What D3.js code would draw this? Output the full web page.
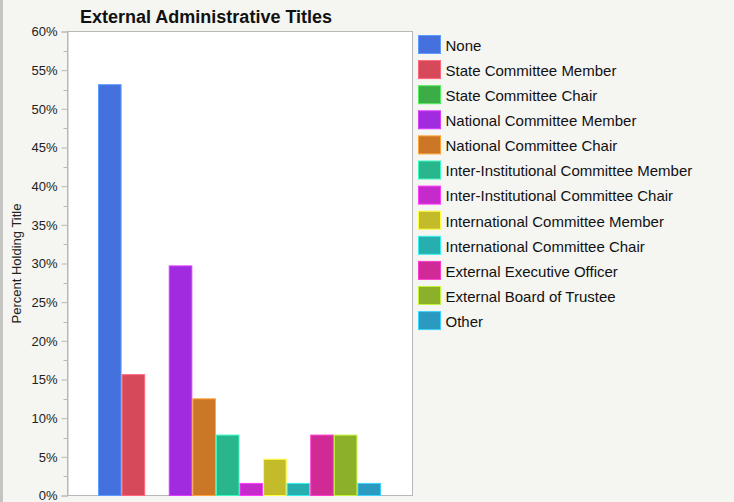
<!DOCTYPE html>
<html><head><meta charset="utf-8">
<script src="https://cdn.jsdelivr.net/npm/d3@7"></script>
<style>
html,body{margin:0;padding:0;background:#f5f5f1;}
svg{display:block;font-family:"Liberation Sans",Arial,Helvetica,sans-serif;}
</style></head><body>
<svg id="chart" width="734" height="502"></svg>
<script>
const categories = ["None","State Committee Member","State Committee Chair","National Committee Member","National Committee Chair","Inter-Institutional Committee Member","Inter-Institutional Committee Chair","International Committee Member","International Committee Chair","External Executive Officer","External Board of Trustee","Other"];
const values = [53.125, 15.625, 0, 29.6875, 12.5, 7.8125, 1.5625, 4.6875, 1.5625, 7.8125, 7.8125, 1.5625];
const colors = ["#4571de","#d5495a","#3cad46","#a12bdf","#cc7628","#29b68c","#c52bcb","#c4bb2b","#27aeae","#d02a97","#8db02a","#2a9ac0"];
const yTicks = [0,5,10,15,20,25,30,35,40,45,50,55,60];
const title = "External Administrative Titles";
const yTitle = "Percent Holding Title";

const svg = d3.select("#chart");
const plot = {l:67.5, r:412.5, t:31.5, b:495.5};

// window left border
svg.append("rect").attr("x",0).attr("y",0).attr("width",3).attr("height",502).attr("fill","#c4c4c2");

svg.append("rect").attr("x",plot.l).attr("y",plot.t).attr("width",plot.r-plot.l).attr("height",plot.b-plot.t)
  .attr("fill","#fff").attr("stroke","#b8b8b8").attr("stroke-width",1);

const y = d3.scaleLinear().domain([0,60]).range([plot.b, plot.t]);
const x = d3.scaleBand().domain(categories).range([98, 381]).paddingInner(0).paddingOuter(0);
const color = d3.scaleOrdinal().domain(categories).range(colors);

// minor ticks
const minor = d3.range(2.5, 60, 5);
svg.append("g").selectAll("line").data(minor).join("line")
  .attr("x1", plot.l-4).attr("x2", plot.l).attr("y1", d=>Math.round(y(d))+0.5).attr("y2", d=>Math.round(y(d))+0.5)
  .attr("stroke","#b8b8b8");

const yAxis = d3.axisLeft(y).tickValues(yTicks).tickFormat(d=>d+"%").tickSize(6).tickPadding(4);
const ga = svg.append("g").attr("transform",`translate(${plot.l},0)`).call(yAxis);
ga.select(".domain").attr("stroke","#b8b8b8");
ga.selectAll(".tick line").attr("stroke","#b8b8b8");
ga.selectAll(".tick text").attr("font-size",13).attr("fill","#222").attr("font-family","Liberation Sans, Arial, sans-serif");

svg.append("g").selectAll("rect").data(categories).join("rect")
  .attr("x", d=>x(d)+0.5).attr("width", x.bandwidth()-1)
  .attr("y", (d,i)=>y(values[i])).attr("height",(d,i)=>y(0)-y(values[i]))
  .attr("fill", d=>color(d))
  .attr("stroke", d=>d3.color(color(d)).brighter(0.9)).attr("stroke-width",1)
  .attr("display",(d,i)=>values[i]>0?null:"none");

svg.append("text").attr("x",80).attr("y",23).attr("font-size",18).attr("font-weight","bold").attr("fill","#111").text(title);

svg.append("text").attr("transform",`translate(21,${(plot.t+plot.b)/2}) rotate(-90)`).attr("text-anchor","middle")
  .attr("font-size",13).attr("fill","#222").text(yTitle);

const lg = svg.append("g").selectAll("g").data(categories).join("g")
  .attr("transform",(d,i)=>`translate(418.5,${35.5+i*25.1})`);
lg.append("rect").attr("width",22).attr("height",18).attr("fill",d=>color(d)).attr("stroke",d=>d3.color(color(d)).brighter(0.9));
lg.append("text").attr("x",27).attr("y",10).attr("dy","0.36em").attr("font-size",15).attr("fill","#111").text(d=>d);
</script>
</body></html>
